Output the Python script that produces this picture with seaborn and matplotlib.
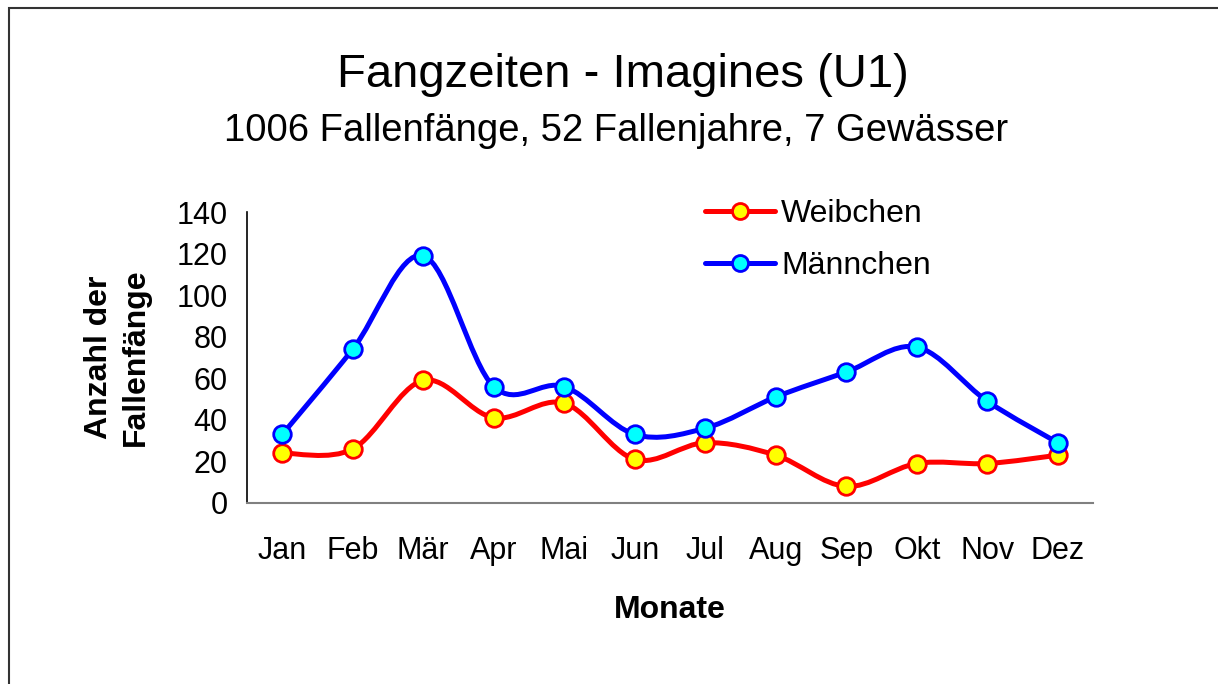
import numpy as np
import pandas as pd
import matplotlib
matplotlib.use("Agg")
import matplotlib.pyplot as plt
from matplotlib.path import Path
from matplotlib.patches import PathPatch, Rectangle
from matplotlib.lines import Line2D
import seaborn as sns

months = ["Jan", "Feb", "Mär", "Apr", "Mai", "Jun", "Jul", "Aug", "Sep", "Okt", "Nov", "Dez"]
weibchen = [24, 26, 59, 41, 48, 21, 29, 23, 8, 19, 19, 23]
maennchen = [33, 74, 119, 56, 56, 33, 36, 51, 63, 75, 49, 29]
yticks = [0, 20, 40, 60, 80, 100, 120, 140]

title = "Fangzeiten - Imagines (U1)"
subtitle = "1006 Fallenfänge, 52 Fallenjahre, 7 Gewässer"

sns.set_theme(style="white")
plt.rcParams["font.family"] = ["Liberation Sans", "DejaVu Sans"]
plt.rcParams["text.color"] = "black"
plt.rcParams["axes.labelcolor"] = "black"
plt.rcParams["xtick.labelcolor"] = "black"
plt.rcParams["ytick.labelcolor"] = "black"

fig = plt.figure(figsize=(12.18, 6.84), dpi=100)
ax = fig.add_axes([247 / 1218, 1 - 503 / 684, (1093 - 247) / 1218, (503 - 212) / 684])

x = np.arange(len(months))


def smooth_path(xs, ys):
    """Cubic Bezier path through the points (Catmull-Rom style tangents)."""
    pts = np.column_stack([xs, ys]).astype(float)
    n = len(pts)
    verts = [pts[0]]
    codes = [Path.MOVETO]
    for i in range(n - 1):
        p0 = pts[i - 1] if i > 0 else pts[i]
        p1 = pts[i]
        p2 = pts[i + 1]
        p3 = pts[i + 2] if i + 2 < n else pts[i + 1]
        c1 = p1 + (p2 - p0) / 6.0
        c2 = p2 - (p3 - p1) / 6.0
        verts += [c1, c2, p2]
        codes += [Path.CURVE4] * 3
    return Path(verts, codes)


series = [
    ("Weibchen", weibchen, "#ff0000", "#ffff00"),
    ("Männchen", maennchen, "#0000ff", "#00ffff"),
]

for name, vals, lc, fc in series:
    ax.add_patch(PathPatch(smooth_path(x, vals), facecolor="none", edgecolor=lc,
                           lw=3.6, capstyle="round", joinstyle="round", zorder=2))

df = pd.DataFrame({
    "Monat": np.concatenate([x, x]),
    "Anzahl": weibchen + maennchen,
    "Geschlecht": ["Weibchen"] * 12 + ["Männchen"] * 12,
})
for name, vals, lc, fc in series:
    sub = df[df["Geschlecht"] == name]
    sns.scatterplot(data=sub, x="Monat", y="Anzahl", ax=ax, s=160, color=fc,
                    edgecolor=lc, linewidth=2.0, zorder=3, legend=False)

ax.set_xlim(-0.5, 11.5)
ax.set_ylim(0, 140)
ax.set_yticks(yticks)
ax.set_yticklabels([str(v) for v in yticks], fontsize=22)
ax.set_xticks(np.arange(-0.5, 12, 1))
ax.set_xticklabels([])
ax.set_xticks(x, minor=True)
ax.set_xticklabels(months, minor=True, fontsize=22)
ax.tick_params(axis="x", which="minor", length=0, pad=24)
ax.tick_params(axis="x", which="major", length=8, width=1.2, color="#808080", direction="out")
ax.tick_params(axis="y", length=8, width=1.2, color="black", direction="out", pad=6)

for s in ["top", "right"]:
    ax.spines[s].set_visible(False)
ax.spines["left"].set_color("black")
ax.spines["left"].set_linewidth(1.2)
ax.spines["bottom"].set_color("#808080")
ax.spines["bottom"].set_linewidth(1.5)
ax.set_xlabel("Monate", fontsize=23, fontweight="bold", labelpad=21)
ax.set_ylabel("Anzahl der\nFallenfänge", fontsize=23, fontweight="bold", labelpad=18,
              linespacing=1.3)
ax.patch.set_alpha(0)

handles = [Line2D([0], [0], color=lc, lw=3.6, marker="o", markersize=11.5,
                  markerfacecolor=fc, markeredgecolor=lc, markeredgewidth=2.0)
           for _, _, lc, fc in series]
ax.legend(handles, [s[0] for s in series], loc="upper left", bbox_to_anchor=(0.522, 1.1),
          frameon=False, fontsize=23, handlelength=2.2, handletextpad=0.2,
          labelspacing=0.7, borderpad=0)

fig.text(623 / 1218, 1 - 75 / 684, title, ha="center", va="center", fontsize=34)
fig.text(616 / 1218, 1 - 131 / 684, subtitle, ha="center", va="center", fontsize=27.5)

fig.patches.append(Rectangle((8.5 / 1218, -0.5), 2, 1.5 - 8.5 / 684, transform=fig.transFigure,
                             fill=False, edgecolor="#333333", lw=1.5, zorder=0))

fig.savefig("out.png", dpi=100)
